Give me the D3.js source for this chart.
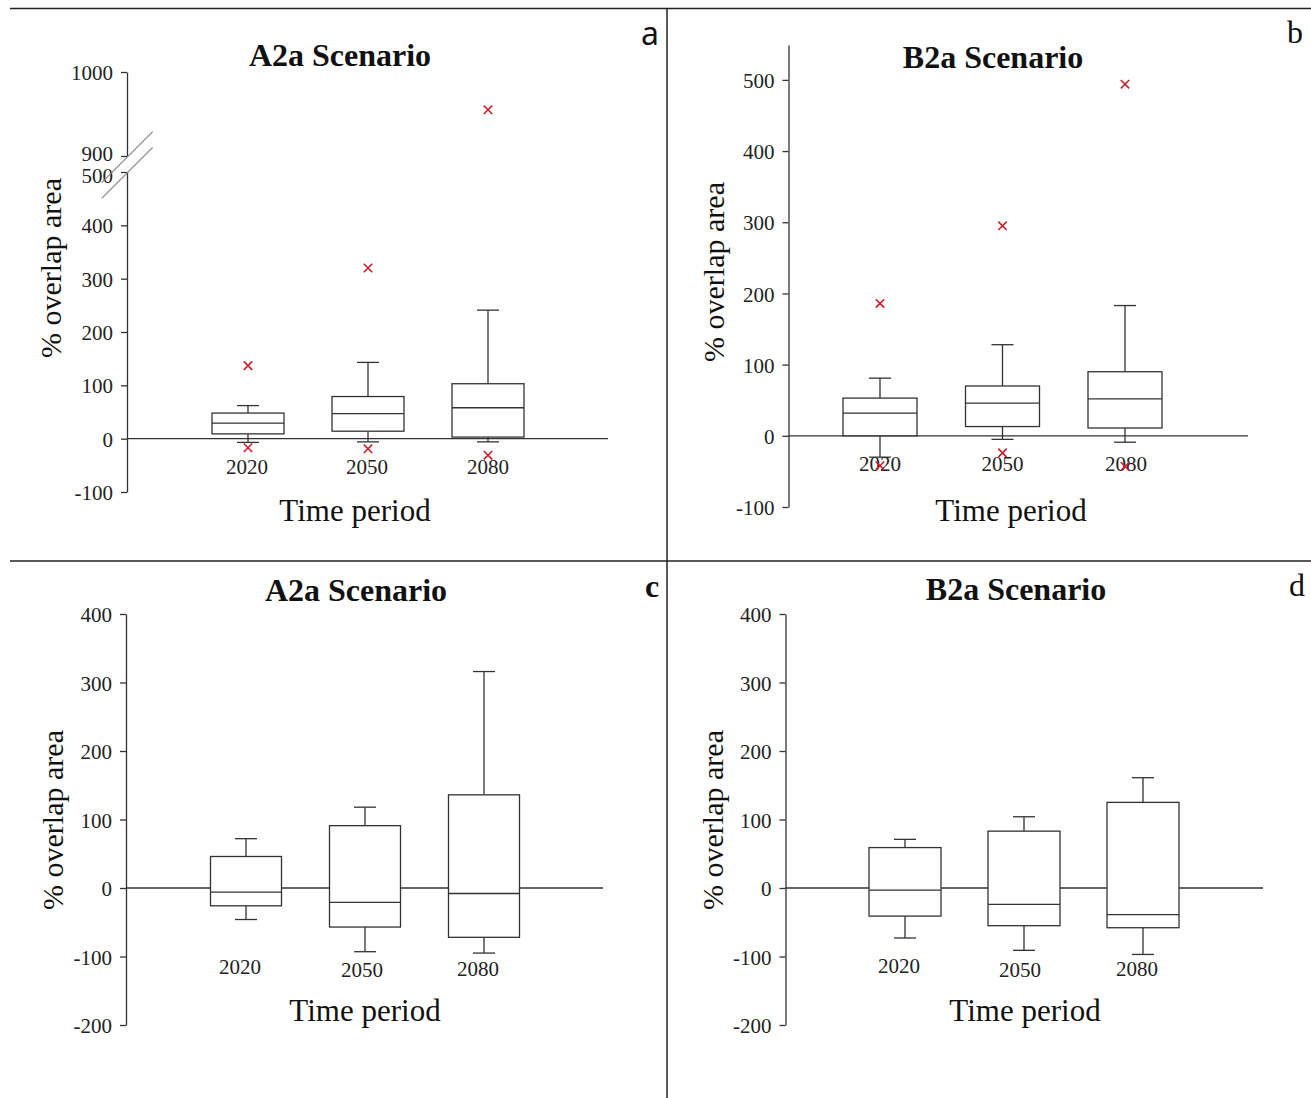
<!DOCTYPE html>
<html>
<head>
<meta charset="utf-8">
<script src="https://cdn.jsdelivr.net/npm/d3@7"></script>
<style>
  body { margin: 0; background: #fff; }
  svg { display: block; }
  .tick line, .domain { stroke: #333; stroke-width: 1.3; }
</style>
</head>
<body>
<div id="chart"></div>
<script>
const years = ["2020", "2050", "2080"];

// panel a - A2a, with outliers
const minA = [-7, -6, -6];
const q1A = [9, 14, 3];
const medA = [29, 47, 58];
const q3A = [48, 79, 103];
const maxA = [62, 143, 241];
const outHighA = [137, 320, 955];
const outLowA = [-17, -19, -31];

// panel b - B2a, with outliers
const minB = [-30, -5, -9];
const q1B = [0, 13, 11];
const medB = [32, 46, 52];
const q3B = [53, 70, 90];
const maxB = [81, 128, 183];
const outHighB = [186, 295, 494];
const outLowB = [-42, -24, -43];

// panel c - A2a
const minC = [-46, -93, -95];
const q1C = [-26, -57, -72];
const medC = [-6, -21, -8];
const q3C = [46, 91, 136];
const maxC = [72, 118, 316];

// panel d - B2a
const minD = [-73, -91, -97];
const q1D = [-41, -55, -58];
const medD = [-3, -24, -39];
const q3D = [59, 83, 125];
const maxD = [71, 104, 161];

const ticksAB = [-100, 0, 100, 200, 300, 400, 500];
const ticksAHigh = [900, 1000];
const ticksCD = [-200, -100, 0, 100, 200, 300, 400];

const serif = '"Liberation Serif", "Times New Roman", serif';
const lineColor = "#333";
const redX = "#c8202c";

const svg = d3.select("#chart")
	.append("svg")
	.attr("width", 1311)
	.attr("height", 1098);

// frame lines between the panels
svg.append("line").attr("x1", 10).attr("x2", 1311).attr("y1", 8.5).attr("y2", 8.5)
	.attr("stroke", "#222").attr("stroke-width", 1.5);
svg.append("line").attr("x1", 667).attr("x2", 667).attr("y1", 8).attr("y2", 1098)
	.attr("stroke", "#222").attr("stroke-width", 1.5);
svg.append("line").attr("x1", 10).attr("x2", 1311).attr("y1", 561).attr("y2", 561)
	.attr("stroke", "#222").attr("stroke-width", 1.5);

function drawPanel(p) {
	const g = svg.append("g");
	const x = d3.scalePoint().domain(years).range(p.xRange);
	const y = p.y;

	// y axis
	p.axes.forEach((ax) => {
		g.append("g")
			.attr("transform", `translate(${p.axisX},0)`)
			.call(d3.axisLeft(ax.scale).tickValues(ax.ticks).tickFormat((d) => String(d))
				.tickSize(6).tickSizeOuter(0).tickPadding(8))
			.call((s) => s.selectAll(".tick text")
				.attr("dy", "0.36em")
				.attr("font-family", serif)
				.attr("font-size", 21)
				.attr("fill", "#222")
				.attr("transform", (d) => `translate(0,${(p.tickShift && p.tickShift[d]) || 0})`));
	});

	// zero line
	g.append("line")
		.attr("x1", p.axisX).attr("x2", p.zeroEnd)
		.attr("y1", y(0)).attr("y2", y(0))
		.attr("stroke", lineColor).attr("stroke-width", 1.3);

	const half = p.boxW / 2;
	const cap = 11;
	years.forEach((yr, i) => {
		const cx = x(yr);
		// whiskers
		g.append("line").attr("x1", cx).attr("x2", cx)
			.attr("y1", y(p.max[i])).attr("y2", y(p.q3[i]))
			.attr("stroke", lineColor).attr("stroke-width", 1.3);
		g.append("line").attr("x1", cx).attr("x2", cx)
			.attr("y1", y(p.q1[i])).attr("y2", y(p.min[i]))
			.attr("stroke", lineColor).attr("stroke-width", 1.3);
		g.append("line").attr("x1", cx - cap).attr("x2", cx + cap)
			.attr("y1", y(p.max[i])).attr("y2", y(p.max[i]))
			.attr("stroke", lineColor).attr("stroke-width", 1.3);
		g.append("line").attr("x1", cx - cap).attr("x2", cx + cap)
			.attr("y1", y(p.min[i])).attr("y2", y(p.min[i]))
			.attr("stroke", lineColor).attr("stroke-width", 1.3);
		// box
		g.append("rect")
			.attr("x", cx - half).attr("width", p.boxW)
			.attr("y", y(p.q3[i])).attr("height", y(p.q1[i]) - y(p.q3[i]))
			.attr("fill", "#fff").attr("stroke", lineColor).attr("stroke-width", 1.3);
		g.append("line").attr("x1", cx - half).attr("x2", cx + half)
			.attr("y1", y(p.med[i])).attr("y2", y(p.med[i]))
			.attr("stroke", lineColor).attr("stroke-width", 1.3);
	});

	// category labels
	g.selectAll(".cat")
		.data(years)
		.enter()
		.append("text")
		.attr("x", (d, i) => x(d) + p.labelDx[i])
		.attr("y", (d, i) => p.labelY + p.labelDy[i])
		.attr("text-anchor", "middle")
		.attr("dominant-baseline", "central")
		.attr("font-family", serif).attr("font-size", 21).attr("fill", "#222")
		.text((d) => d);

	// outliers
	if (p.outHigh) {
		const sym = d3.symbol().type(d3.symbolTimes).size(48);
		const pts = years.flatMap((yr, i) => [[x(yr), y(p.outHigh[i])], [x(yr), y(p.outLow[i])]]);
		g.selectAll(".out")
			.data(pts)
			.enter()
			.append("path")
			.attr("d", sym)
			.attr("transform", (d) => `translate(${d[0]},${d[1]})`)
			.attr("fill", "none").attr("stroke", redX).attr("stroke-width", 1.6);
	}

	// title, axis titles, panel letter
	g.append("text").attr("x", p.title[0]).attr("y", p.title[1])
		.attr("text-anchor", "middle").attr("dominant-baseline", "central")
		.attr("font-family", serif).attr("font-weight", "bold").attr("font-size", 32).attr("fill", "#111")
		.text(p.titleText);
	g.append("text").attr("x", p.xTitle[0]).attr("y", p.xTitle[1])
		.attr("text-anchor", "middle").attr("dominant-baseline", "central")
		.attr("font-family", serif).attr("font-size", 31).attr("fill", "#111")
		.text("Time period");
	g.append("text")
		.attr("transform", `translate(${p.yTitle[0]},${p.yTitle[1]}) rotate(-90)`)
		.attr("text-anchor", "middle").attr("dominant-baseline", "central")
		.attr("font-family", serif).attr("font-size", 30).attr("fill", "#111")
		.text("% overlap area");
	g.append("text").attr("x", p.letter[0]).attr("y", p.letter[1])
		.attr("text-anchor", "middle").attr("dominant-baseline", "central")
		.attr("font-family", p.letterFont).attr("font-weight", p.letterWeight)
		.attr("font-size", 32).attr("fill", "#111")
		.text(p.letterText);
}

// panel a: broken y axis
const yLowA = d3.scaleLinear().domain([-100, 500]).range([492, 172]);
const yHighA = d3.scaleLinear().domain([900, 1000]).range([156, 72]);
const yA = (v) => (v >= 900 ? yHighA(v) : yLowA(v));

drawPanel({
	axisX: 127, xRange: [248, 488], zeroEnd: 608, boxW: 72, y: yA,
	axes: [{ scale: yLowA, ticks: ticksAB }, { scale: yHighA, ticks: ticksAHigh }],
	tickShift: { 900: -3, 500: 3 },
	min: minA, q1: q1A, med: medA, q3: q3A, max: maxA, outHigh: outHighA, outLow: outLowA,
	labelY: 467, labelDx: [-1, -1, 0], labelDy: [0, 0, 0],
	title: [340, 55], titleText: "A2a Scenario", xTitle: [355, 510], yTitle: [50, 268],
	letter: [650, 32], letterText: "a", letterFont: '"Noto Sans", sans-serif', letterWeight: "normal"
});

// axis break marks for panel a
const slash = d3.scaleLinear().domain([0, 1]).range([101.7, 152.7]);
[[182.7, 131.7], [198.3, 147.3]].forEach((s) => {
	svg.append("line")
		.attr("x1", slash(0)).attr("x2", slash(1))
		.attr("y1", s[0]).attr("y2", s[1])
		.attr("stroke", "#888").attr("stroke-width", 1.2);
});

const yB = d3.scaleLinear().domain([-100, 549]).range([507, 45]);
drawPanel({
	axisX: 788.5, xRange: [880, 1125], zeroEnd: 1248, boxW: 74, y: yB,
	axes: [{ scale: yB, ticks: ticksAB }],
	min: minB, q1: q1B, med: medB, q3: q3B, max: maxB, outHigh: outHighB, outLow: outLowB,
	labelY: 464, labelDx: [0, 0, 1], labelDy: [0, 0, 0],
	title: [993, 57], titleText: "B2a Scenario", xTitle: [1011, 510], yTitle: [713, 272],
	letter: [1295, 32], letterText: "b", letterFont: serif, letterWeight: "normal"
});

const yC = d3.scaleLinear().domain([-200, 400]).range([1025, 614]);
drawPanel({
	axisX: 126, xRange: [246, 484], zeroEnd: 603, boxW: 71, y: yC,
	axes: [{ scale: yC, ticks: ticksCD }],
	min: minC, q1: q1C, med: medC, q3: q3C, max: maxC,
	labelY: 968, labelDx: [-6, -3, -6], labelDy: [-1, 2, 1],
	title: [356, 590], titleText: "A2a Scenario", xTitle: [365, 1010], yTitle: [52, 820],
	letter: [652, 586], letterText: "c", letterFont: serif, letterWeight: "bold"
});

const yD = d3.scaleLinear().domain([-200, 400]).range([1025, 614]);
drawPanel({
	axisX: 785.5, xRange: [905, 1143], zeroEnd: 1263, boxW: 72, y: yD,
	axes: [{ scale: yD, ticks: ticksCD }],
	min: minD, q1: q1D, med: medD, q3: q3D, max: maxD,
	labelY: 968, labelDx: [-6, -4, -6], labelDy: [-2, 2, 1],
	title: [1016, 589], titleText: "B2a Scenario", xTitle: [1025, 1010], yTitle: [712, 820],
	letter: [1297, 585], letterText: "d", letterFont: serif, letterWeight: "normal"
});
</script>
</body>
</html>
